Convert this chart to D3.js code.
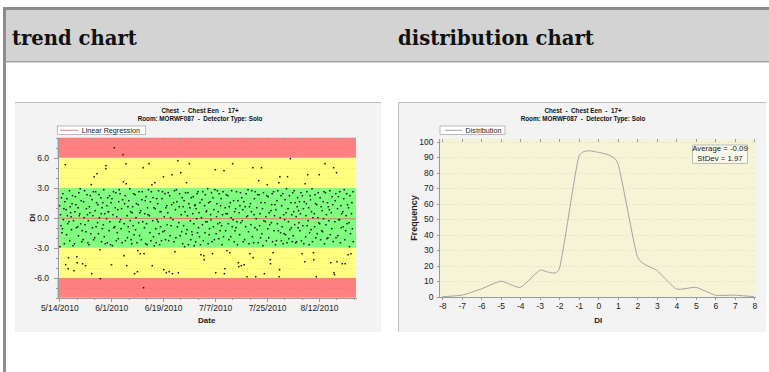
<!DOCTYPE html>
<html>
<head>
<meta charset="utf-8">
<script src="https://cdn.jsdelivr.net/npm/d3@7"></script>
<style>
	html, body { margin: 0; padding: 0; background: #fff; }
	svg { display: block; font-family: "Liberation Sans", Arial, sans-serif; }
	.heading { font-family: "DejaVu Serif", Georgia, serif; font-weight: bold; font-size: 19.6px; fill: #111; }
	.chart-title { font-size: 6.3px; font-weight: bold; fill: #111; white-space: pre; }
	.axis path, .axis line { stroke: #9a9a9a; shape-rendering: crispEdges; }
	.axis text { font-size: 8.5px; fill: #222; }
	.axis-title { font-size: 8px; font-weight: bold; fill: #222; }
	.legend-item { font-size: 7.2px; fill: #222; }
	.grid line { stroke: #000; stroke-opacity: 0.1; stroke-dasharray: 1,2; shape-rendering: crispEdges; }
</style>
</head>
<body>
<svg id="page" width="769" height="372"></svg>
<script>
// ---- data ----
const headings = ["trend chart", "distribution chart"];
const titleLines = ["Chest  -  Chest Een  -  17+", "Room: MORWF087  -  Detector Type: Solo"];

const trendExtent = ["5/13/2010 09", "8/24/2010 20"];
const trendFirstDay = "5/14/2010";
const trendTickLabels = ["5/14/2010", "6/1/2010", "6/19/2010", "7/7/2010", "7/25/2010", "8/12/2010"];
const trendYTicks = [-6, -3, 0, 3, 6];
const bandLimits = [-8, -6, -3, 3, 6, 8];
const regressionDI = [-0.05, -0.12];

// DI readings per day, starting 5/14/2010
const dailyDI = [
	[1.2, -2.9, 0.3, -0.8, 2.0, -1.5], [-1.1, 2.4, -0.2, 0.9, -2.6, 1.6], [5.3, -4.7, 0.8, -1.7, 1.9, 0.2, -0.6],
	[-5.1, -4.0, -0.4, 2.7, -2.3, 1.1, 0.5], [0.1, -1.2, 1.4, 2.2, -2.8, -0.3], [-5.3, -2.6, 0.6, 2.1, 1.3, -1.0],
	[-3.9, -4.5, -0.9, 1.0, -1.8, 2.5, 0.2], [0.4, 2.9, -0.6, 1.7, -2.4, -1.3], [-4.6, -2.2, 1.6, 0.0, 2.7, -0.7],
	[-4.8, -1.4, 0.9, 2.3, 0.3, -2.5], [-0.3, -2.7, 1.1, 0.5, 2.2, -1.6], [3.3, -5.6, 1.8, -1.0, 0.2, 2.6, -2.2],
	[4.1, -2.0, 0.7, 2.6, -0.9, 1.5], [4.4, -0.5, 1.3, -1.6, 2.3, 0.0], [-3.2, -6.1, 2.0, 0.4, -2.4, 1.0, -1.1],
	[1.5, -0.7, 2.8, -1.9, 0.4, -2.6], [4.9, 5.2, -0.1, 1.2, -2.5, 2.0, 0.6], [0.6, -1.3, 2.2, -0.4, -2.7, 1.5],
	[-4.7, 1.9, -2.8, 0.3, 2.6, -1.0], [7.0, -0.9, 1.0, 2.5, -2.3, 0.1], [-1.5, 0.8, -2.1, 1.6, 2.8, -0.4],
	[2.4, -0.2, -1.1, 0.9, -2.5, 1.8], [6.3, 3.6, -3.8, -0.6, 1.4, 2.2, -2.3], [5.4, 3.4, -4.8, 0.2, -2.0, 1.1, -0.9],
	[1.7, -1.4, 2.9, -0.3, 0.6, -2.2], [-2.6, 0.5, 1.1, -0.8, 2.4, -1.7], [-5.6, 2.3, -1.2, 0.0, 1.4, -2.5],
	[-5.4, -3.3, 1.3, -0.5, 2.6, -1.8, 0.5], [-3.6, 0.7, -2.2, 1.8, 2.6, -0.4], [5.0, -7.0, -3.6, -1.0, 0.4, 1.7, -2.6],
	[2.1, -0.6, -2.7, 1.0, 0.3, 2.8], [5.4, 0.2, -1.5, 1.6, -2.3, 2.6], [3.3, -4.8, -0.3, 2.0, -1.9, 1.0, -2.8],
	[3.5, 0.9, -1.1, -2.5, 1.9, -0.2], [1.4, -0.4, 2.7, -1.6, -2.7, 0.6], [-0.9, 0.6, -2.3, 1.9, 2.6, -1.4],
	[4.1, -5.2, 0.1, -1.3, 2.4, -2.2, 1.0], [-5.5, 1.2, -0.7, 0.5, 2.5, -2.3], [-5.4, 2.2, -1.8, 0.0, -0.8, 1.3],
	[4.3, -5.6, -0.2, 1.5, -2.4, 2.7], [-3.4, 0.8, -2.0, 2.8, 1.6, -0.9], [5.7, -5.5, -0.5, 1.1, 2.4, -1.8],
	[4.5, 0.3, -1.4, 2.0, -2.6, 1.1], [-0.8, 1.7, -2.9, 0.6, 2.5, -1.6], [3.5, -1.2, 0.2, 2.5, -2.7, 1.4],
	[5.4, 1.0, -0.3, -2.2, 2.0, -1.4], [-1.7, 0.4, 2.1, -0.6, -2.8, 1.2], [1.3, -2.4, 0.9, -0.1, 2.4, -1.5],
	[2.6, -1.0, 0.5, -1.9, 1.5, -2.7], [-3.7, 0.0, 1.8, -0.7, 2.6, -2.3], [-3.8, -4.2, 1.2, -1.5, 2.3, -0.4, 0.6],
	[0.7, -0.4, 2.9, -2.6, 1.5, -1.7], [-1.1, 1.6, 0.3, -0.2, 2.5, -2.4], [-3.6, 2.0, -0.9, 0.8, -2.2, 2.8],
	[4.8, -5.5, -1.6, 0.1, 1.4, 2.7, -0.6], [0.6, -2.1, 2.4, -0.5, -1.3, 1.2], [1.9, -0.8, -2.7, 0.3, 2.6, -1.9],
	[4.7, -5.6, -5.1, 1.0, -1.3, 0.4, 2.3], [-3.3, 0.4, 2.2, -0.6, -2.2, 1.1], [-3.5, 1.5, -1.9, 0.0, 2.7, -0.9],
	[5.4, -0.2, 1.7, -2.4, 0.6, -1.3], [0.9, -1.0, 2.6, -0.4, -2.7, 1.7], [-4.5, -4.9, 0.5, -1.7, 1.2, 2.5, -0.5],
	[-4.8, 2.0, -0.3, 0.8, -2.4, 1.6], [-4.7, -2.2, 1.1, -0.9, 2.4, 0.1], [-5.9, 0.2, 2.8, -1.4, -2.6, 1.1],
	[-3.6, 1.4, -0.7, 0.6, 2.7, -1.9], [5.0, -4.0, -2.5, 0.3, 1.9, -1.0, 2.6], [-5.9, -0.1, 1.0, -1.2, 2.3, -2.5],
	[3.7, 2.3, -0.8, 0.4, -2.0, 1.5], [5.0, -1.6, 0.9, -2.8, 2.5, -0.3], [-5.6, 1.5, -0.4, 0.1, -2.3, 2.2],
	[3.3, -1.1, 2.1, -2.0, 0.5, -0.7], [-4.2, -4.6, 0.7, -0.5, 1.3, 2.4, -2.4], [-3.5, 2.6, -1.3, 0.2, 1.3, -2.7],
	[0.8, -2.3, 1.7, -0.6, 2.7, -1.3], [3.5, -5.9, -5.2, 4.1, 0.0, -1.5, 2.2, -2.3], [1.2, -0.9, 2.4, -2.6, 0.3, -1.6],
	[-0.2, 1.8, -1.7, 0.5, 2.9, -2.5], [4.1, 0.9, -0.4, -2.1, 2.2, -1.2], [5.9, 1.5, -1.0, 0.3, -2.4, 2.5],
	[-1.8, 0.6, 2.7, -0.7, 1.5, -2.5], [0.1, -2.4, 1.1, 2.0, -1.0, 0.7], [-0.5, 1.6, -1.3, 0.4, 2.5, -2.3],
	[-3.6, 2.2, -0.8, 0.9, -2.6, 1.6], [-4.4, 3.4, -1.9, 0.2, 1.4, 2.6, -0.8], [4.3, -0.3, 1.0, -2.7, -1.5, 2.2],
	[1.8, -1.2, 0.6, 2.9, -2.4, 0.0], [-3.5, -4.2, 0.4, -0.9, 2.3, 1.4, -2.0], [-5.9, 1.3, -1.6, 0.0, 2.5, -0.5],
	[4.3, -0.6, 2.0, -2.2, 1.1, -1.3], [0.7, -1.4, 1.6, -0.1, 2.6, -2.6], [5.4, 2.5, -0.7, 0.3, -2.1, 1.5],
	[-2.0, 1.1, -0.3, 0.8, 2.7, -1.7], [-4.5, 0.5, -1.1, 2.1, 1.3, -2.4], [5.0, -5.5, -5.7, -0.4, 1.7, 2.4, -2.0],
	[4.5, -4.4, 0.9, -1.8, 2.1, -0.2], [-0.2, 2.6, -2.5, 1.2, -1.0, 0.4], [-4.6, 0.6, -0.9, 1.9, 2.8, -2.2],
	[-4.6, -1.3, 0.2, 2.4, -0.6, 1.3], [-3.7, 1.0, -0.5, -2.9, 2.2, -1.6], [-3.6, 0.4, 1.5, -1.1, 2.6, -2.4]
];

const distDI = [-8, -7, -6, -5, -4, -3, -2, -1, 0, 1, 2, 3, 4, 5, 6, 7, 8];
const distFreq = [0, 1, 5, 10, 6, 17, 18, 90, 93, 86, 26, 17, 5, 6, 1, 1, 0];
const distYTicks = [0, 10, 20, 30, 40, 50, 60, 70, 80, 90, 100];
const distStats = ["Average = -0.09", "StDev = 1.97"];

// ---- page frame ----
const page = d3.select("#page");

page.append("rect").attr("x", 3).attr("y", 7).attr("width", 766).attr("height", 3).attr("fill", "#8c8c8c");
page.append("rect").attr("x", 3).attr("y", 7).attr("width", 3).attr("height", 365).attr("fill", "#8c8c8c");
page.append("rect").attr("x", 6).attr("y", 10).attr("width", 763).attr("height", 51).attr("fill", "#d3d3d3");
page.append("rect").attr("x", 6).attr("y", 61).attr("width", 763).attr("height", 1.5).attr("fill", "#a4a4a4");

page.selectAll(".heading")
	.data(headings)
	.enter().append("text")
	.attr("class", "heading")
	.attr("x", (d, i) => i === 0 ? 12 : 398)
	.attr("y", 45)
	.text(d => d);

function makePanel(x0, width, centerX) {
	const g = page.append("g");
	g.append("rect")
		.attr("x", x0).attr("y", 102)
		.attr("width", width).attr("height", 230)
		.attr("fill", "#f3f3f3");
	g.append("line")
		.attr("x1", x0).attr("x2", x0 + width)
		.attr("y1", 102.5).attr("y2", 102.5)
		.attr("stroke", "#bdbdbd");
	g.selectAll(".chart-title")
		.data(titleLines)
		.enter().append("text")
		.attr("class", "chart-title")
		.attr("x", centerX)
		.attr("y", (d, i) => 113.2 + i * 7.3)
		.attr("text-anchor", "middle")
		.text(d => d);
	return g;
}

// plain hyphen for negatives, like the original
const fixed1 = d => d.toFixed(1);

// ---- trend chart ----
function drawTrend() {
	const g = makePanel(15, 366, 200);
	const parse = d3.timeParse("%m/%d/%Y");
	const parseHour = d3.timeParse("%m/%d/%Y %H");
	const fmt = d3.timeFormat("%-m/%-d/%Y");

	const x = d3.scaleTime()
		.domain(trendExtent.map(parseHour))
		.range([57.5, 356]);
	const y = d3.scaleLinear()
		.domain([bandLimits[0], bandLimits[bandLimits.length - 1]])
		.range([297.7, 137.7]);

	const bandColors = ["#ff8080", "#ffff80", "#80ff80", "#ffff80", "#ff8080"];
	const bands = d3.pairs(bandLimits);
	g.selectAll(".band")
		.data(bands)
		.enter().append("rect")
		.attr("x", x.range()[0])
		.attr("width", x.range()[1] - x.range()[0])
		.attr("y", d => y(d[1]))
		.attr("height", d => y(d[0]) - y(d[1]))
		.attr("fill", (d, i) => bandColors[i]);

	// dotted gridlines on every whole DI
	g.append("g")
		.attr("class", "grid")
		.attr("transform", "translate(" + x.range()[0] + ",0)")
		.call(d3.axisLeft(y).ticks(16).tickSize(-(x.range()[1] - x.range()[0])).tickFormat(""))
		.call(a => a.select(".domain").remove())
		.call(a => a.selectAll(".tick").filter(d => bandLimits.includes(d)).remove());

	const first = parse(trendFirstDay);
	const points = [];
	dailyDI.forEach((vals, day) => {
		vals.forEach((v, j) => {
			const t = d3.timeHour.offset(d3.timeDay.offset(first, day), Math.round((j + 0.5) * 24 / vals.length));
			points.push({ t: t, v: v });
		});
	});

	g.append("line")
		.attr("x1", x.range()[0]).attr("x2", x.range()[1])
		.attr("y1", y(regressionDI[0])).attr("y2", y(regressionDI[1]))
		.attr("stroke", "#e07a7a")
		.attr("stroke-width", 1);

	g.selectAll(".pt")
		.data(points)
		.enter().append("rect")
		.attr("x", d => x(d.t) - 0.75)
		.attr("y", d => y(d.v) - 0.75)
		.attr("width", 1.5)
		.attr("height", 1.5)
		.attr("fill", "#161616");

	const majors = trendTickLabels.map(parse);
	const minors = d3.timeDay.range(first, x.domain()[1], 6);

	g.append("g")
		.attr("class", "axis")
		.attr("transform", "translate(0," + y.range()[0] + ")")
		.call(d3.axisBottom(x).tickValues(minors).tickSize(2).tickFormat(""))
		.call(a => a.select(".domain").remove());
	g.append("g")
		.attr("class", "axis")
		.attr("transform", "translate(0," + y.range()[0] + ")")
		.call(d3.axisBottom(x).tickValues(majors).tickFormat(fmt).tickSize(4).tickSizeOuter(0).tickPadding(3));
	g.append("g")
		.attr("class", "axis")
		.attr("transform", "translate(0," + y.range()[1] + ")")
		.call(d3.axisTop(x).tickValues(minors).tickSize(-2).tickFormat(""))
		.call(a => a.select(".domain").remove());

	g.append("g")
		.attr("class", "axis")
		.attr("transform", "translate(" + x.range()[0] + ",0)")
		.call(d3.axisLeft(y).ticks(16).tickSize(2).tickFormat(""))
		.call(a => a.select(".domain").remove());
	g.append("g")
		.attr("class", "axis")
		.attr("transform", "translate(" + x.range()[0] + ",0)")
		.call(d3.axisLeft(y).tickValues(trendYTicks).tickFormat(fixed1).tickSize(4).tickSizeOuter(0).tickPadding(4.5));

	g.append("text")
		.attr("class", "axis-title")
		.attr("x", (x.range()[0] + x.range()[1]) / 2)
		.attr("y", 322.7)
		.attr("text-anchor", "middle")
		.text("Date");
	g.append("text")
		.attr("class", "axis-title")
		.attr("transform", "translate(34.5," + y(0) + ") rotate(-90)")
		.attr("text-anchor", "middle")
		.text("DI");

	// legend
	g.append("rect")
		.attr("x", 57.3).attr("y", 126)
		.attr("width", 88.4).attr("height", 8.5)
		.attr("fill", "#fff").attr("stroke", "#a0a0a0").attr("stroke-width", 0.7);
	g.append("line")
		.attr("x1", 60).attr("x2", 78)
		.attr("y1", 130.3).attr("y2", 130.3)
		.attr("stroke", "#f08080");
	g.append("text")
		.attr("class", "legend-item")
		.attr("x", 81.7).attr("y", 132.9)
		.text("Linear Regression");
}

// ---- distribution chart ----
function drawDistribution() {
	const g = makePanel(398, 368, 583);
	g.append("line")
		.attr("x1", 398.5).attr("x2", 398.5)
		.attr("y1", 102).attr("y2", 332)
		.attr("stroke", "#bdbdbd");

	const x = d3.scaleLinear()
		.domain([distDI[0], distDI[distDI.length - 1]])
		.range([442.3, 754.3]);
	const y = d3.scaleLinear()
		.domain([0, 100])
		.range([296.7, 141.5]);

	g.append("rect")
		.attr("x", 439.5).attr("y", 139)
		.attr("width", 316.2).attr("height", y(0) - 139)
		.attr("fill", "#f6f4d6");

	g.append("g")
		.attr("class", "grid")
		.attr("transform", "translate(439.5,0)")
		.call(d3.axisLeft(y).tickValues(distYTicks.slice(1)).tickSize(-316.2).tickFormat(""))
		.call(a => a.select(".domain").remove());

	g.append("path")
		.datum(distDI.map((d, i) => [d, distFreq[i]]))
		.attr("fill", "none")
		.attr("stroke", "#a3a3a3")
		.attr("stroke-width", 1)
		.attr("d", d3.line()
			.x(d => x(d[0]))
			.y(d => y(d[1]))
			.curve(d3.curveCardinal.tension(0.5))
		);

	g.append("g")
		.attr("class", "axis")
		.attr("transform", "translate(0," + y(0) + ")")
		.call(d3.axisBottom(x).tickValues(distDI).tickFormat(d => String(d)).tickSize(3).tickSizeOuter(0).tickPadding(3.5))
		.call(a => a.select(".domain").attr("d", "M439.5,0.5H755.7"));
	g.append("g")
		.attr("class", "axis")
		.attr("transform", "translate(0,139)")
		.call(d3.axisTop(x).tickValues(distDI).tickSize(-3).tickFormat(""))
		.call(a => a.select(".domain").remove());
	g.append("g")
		.attr("class", "axis")
		.attr("transform", "translate(439.5,0)")
		.call(d3.axisLeft(y).tickValues(distYTicks).tickSize(3).tickSizeOuter(0).tickPadding(3))
		.call(a => a.select(".domain").attr("d", "M-0.5,139V" + y(0)));

	g.append("text")
		.attr("class", "axis-title")
		.attr("x", x(0))
		.attr("y", 322.7)
		.attr("text-anchor", "middle")
		.text("DI");
	g.append("text")
		.attr("class", "axis-title")
		.style("font-size", "9px")
		.attr("transform", "translate(417,218) rotate(-90)")
		.attr("text-anchor", "middle")
		.text("Frequency");

	// legend
	g.append("rect")
		.attr("x", 440).attr("y", 126)
		.attr("width", 65).attr("height", 8.5)
		.attr("fill", "#fff").attr("stroke", "#a0a0a0").attr("stroke-width", 0.7);
	g.append("line")
		.attr("x1", 445).attr("x2", 462)
		.attr("y1", 130.3).attr("y2", 130.3)
		.attr("stroke", "#a3a3a3");
	g.append("text")
		.attr("class", "legend-item")
		.attr("x", 465.5).attr("y", 132.9)
		.text("Distribution");

	// stats box
	g.append("rect")
		.attr("x", 692.7).attr("y", 145)
		.attr("width", 54.6).attr("height", 18.3)
		.attr("fill", "#fafaec").attr("stroke", "#a0a0a0").attr("stroke-width", 0.7);
	g.selectAll(".stat")
		.data(distStats)
		.enter().append("text")
		.attr("class", "legend-item")
		.style("font-size", "7.8px")
		.attr("x", 720)
		.attr("y", (d, i) => 151.3 + i * 9.6)
		.attr("text-anchor", "middle")
		.text(d => d);
}

drawTrend();
drawDistribution();
</script>
</body>
</html>
